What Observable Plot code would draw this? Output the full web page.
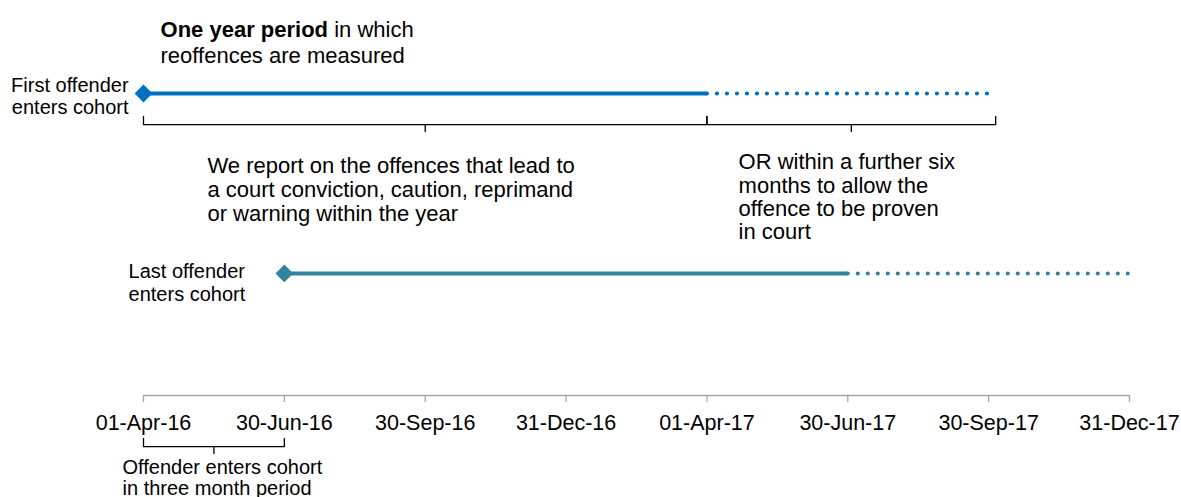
<!DOCTYPE html>
<html>
<head>
<meta charset="utf-8">
<script src="https://cdn.jsdelivr.net/npm/d3@7"></script>
<script src="https://cdn.jsdelivr.net/npm/@observablehq/plot@0.6"></script>
<style>
  html, body { margin: 0; padding: 0; background: #fff; }
  svg { overflow: visible; }
</style>
</head>
<body>
<div id="chart"></div>
<script>
// Category axis (evenly spaced quarter ends)
const tickLabels = ["01-Apr-16", "30-Jun-16", "30-Sep-16", "31-Dec-16", "01-Apr-17", "30-Jun-17", "30-Sep-17", "31-Dec-17"];
const tickIdx = tickLabels.map((_, i) => i);

// Series: entry point, end of one-year period, end of extra six months
const seriesNames = ["First offender\nenters cohort", "Last offender\nenters cohort"];
const entryIdx = [0, 1];
const yearEndIdx = [4, 5];
const extraEndIdx = [6, 7];
const rowLevel = [1, 0.404];
const seriesColors = ["#0070C0", "#31849B"];

// Brackets (start, end) in axis units
const bracketStart = [0, 4];
const bracketEnd = [4, 6.05];
const cohortBracketStart = [0];
const cohortBracketEnd = [1];

const rows = seriesNames.map((name, i) => ({
  name, start: entryIdx[i], yearEnd: yearEndIdx[i], extraEnd: extraEndIdx[i],
  y: rowLevel[i], color: seriesColors[i]
}));

function bracketPath(x1, x2, top, base, tip) {
  const m = (x1 + x2) / 2;
  return [
    {x: x1, y: top}, {x: x1, y: base}, {x: m, y: base}, {x: m, y: tip},
    {x: m, y: base}, {x: x2, y: base}, {x: x2, y: top}
  ];
}
const topBrackets = bracketStart.map((s, i) => bracketPath(s, bracketEnd[i], 0.924, 0.897, 0.874));
const bottomBrackets = cohortBracketStart.map((s, i) => bracketPath(s, cohortBracketEnd[i], -0.142, -0.169, -0.192));

const font = "Arial, 'Liberation Sans', sans-serif";

const chart = Plot.plot({
  width: 1181,
  height: 497,
  marginLeft: 143,
  marginRight: 52,
  marginTop: 93,
  marginBottom: 102,
  style: {fontFamily: font, color: "#000", background: "#fff"},
  x: {domain: [0, 7], axis: null},
  y: {domain: [0, 1], axis: null},
  color: {type: "identity"},
  marks: [
    // baseline + axis
    Plot.ruleY([0], {x1: 0, x2: 7, stroke: "#A6A6A6", strokeWidth: 1.3}),
    Plot.axisX({
      ticks: tickIdx, tickFormat: i => tickLabels[i], tickSize: 7, tickPadding: 12.5,
      fontSize: 21.5, stroke: "#A6A6A6", strokeWidth: 1.3, fill: "#000"
    }),
    // dotted extension
    Plot.link(rows, {
      x1: "yearEnd", x2: "extraEnd", y1: "y", y2: "y", stroke: "color",
      strokeWidth: 4.2, strokeDasharray: "0 10", strokeLinecap: "round"
    }),
    // solid one-year period
    Plot.link(rows, {
      x1: "start", x2: "yearEnd", y1: "y", y2: "y", stroke: "color",
      strokeWidth: 4.2
    }),
    // entry diamonds
    Plot.dot(rows, {x: "start", y: "y", fill: "color", symbol: "diamond2", r: 8, stroke: null}),
    // series labels
    Plot.text([rows[0]], {x: -0.106, y: 1.058, text: "name", textAnchor: "end", lineAnchor: "top", fontSize: 20, lineHeight: 1.12}),
    Plot.text([rows[1]], {x: -0.106, y: 0.445, text: "name", textAnchor: "start", lineAnchor: "top", fontSize: 20, lineHeight: 1.17}),
    // brackets
    ...topBrackets.map(b => Plot.line(b, {x: "x", y: "y", stroke: "#000", strokeWidth: 1.3, curve: "linear"})),
    ...bottomBrackets.map(b => Plot.line(b, {x: "x", y: "y", stroke: "#000", strokeWidth: 1.3, curve: "linear"})),
    // annotations
    Plot.text(["One year period in which\nreoffences are measured"], {
      x: 0.121, y: 1.247, text: d => d, textAnchor: "start", lineAnchor: "top", fontSize: 22, lineHeight: 1.18
    }),
    Plot.text(["We report on the offences that lead to\na court conviction, caution, reprimand\nor warning within the year"], {
      x: 0.454, y: 0.795, text: d => d, textAnchor: "start", lineAnchor: "top", fontSize: 22, lineHeight: 1.1
    }),
    Plot.text(["OR within a further six\nmonths to allow the\noffence to be proven\nin court"], {
      x: 4.225, y: 0.804, text: d => d, textAnchor: "start", lineAnchor: "top", fontSize: 22, lineHeight: 1.06
    }),
    Plot.text(["Offender enters cohort\nin three month period"], {
      x: -0.149, y: -0.21, text: d => d, textAnchor: "start", lineAnchor: "top", fontSize: 20, lineHeight: 1.05
    })
  ]
});

// Make "One year period" bold within its line
d3.select(chart).selectAll("tspan").each(function() {
  if (this.textContent === "One year period in which") {
    const t = d3.select(this);
    t.text("");
    t.append("tspan").attr("font-weight", "bold").text("One year period");
    t.append("tspan").text(" in which");
  }
});

document.getElementById("chart").appendChild(chart);
</script>
</body>
</html>
